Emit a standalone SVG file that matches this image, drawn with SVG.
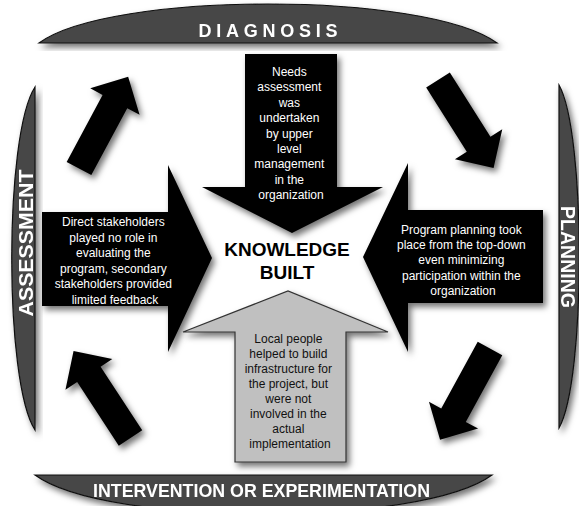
<svg xmlns="http://www.w3.org/2000/svg" width="579" height="506" viewBox="0 0 579 506">
  <defs>
    <filter id="shadow" x="-20%" y="-20%" width="140%" height="140%">
      <feDropShadow dx="3" dy="4" stdDeviation="3" flood-color="#000" flood-opacity="0.55"/>
    </filter>
    <!-- cycle arrow pointing along +x, tail at origin -->
    <path id="cycle-arrow" d="M0,-14 L76,-14 L76,-28 L104,0 L76,28 L76,14 L0,14 Z"/>
  </defs>
  <style>
    .bar { fill: #474747; stroke: #111; stroke-width: 1.2; }
    .bar-label { font-family: "Liberation Sans", Arial, sans-serif; font-weight: bold; fill: #fff; }
    .dark { fill: #000; }
    .light { fill: #c0c0c0; stroke: #333; stroke-width: 1.2; }
    .note { font-family: "Liberation Sans", Arial, sans-serif; font-size: 12px; text-anchor: middle; }
    .note-w { fill: #fff; }
    .note-k { fill: #111; }
    .core { font-family: "Liberation Sans", Arial, sans-serif; font-weight: bold; font-size: 19px; text-anchor: middle; fill: #000; }
  </style>

  <rect width="579" height="506" fill="#fff"/>

  <!-- phase bars -->
  <g id="diagnosis" filter="url(#shadow)">
    <path class="bar" d="M39,43 C110,-9 426,-9 497,43 Z"/>
    <text class="bar-label" x="268" y="37" font-size="18" text-anchor="middle" textLength="139" lengthAdjust="spacing">DIAGNOSIS</text>
  </g>
  <g id="intervention" filter="url(#shadow)">
    <path class="bar" d="M35,475 C106,527 421,527 492,475 Z"/>
    <text class="bar-label" x="261.5" y="497" font-size="18" text-anchor="middle" textLength="337" lengthAdjust="spacingAndGlyphs">INTERVENTION OR EXPERIMENTATION</text>
  </g>
  <g id="assessment" filter="url(#shadow)">
    <path class="bar" d="M35,87 C4,135 4,382 35,430 Z"/>
    <text class="bar-label" transform="translate(33,243) rotate(-90)" x="0" y="0" font-size="20" text-anchor="middle" textLength="147" lengthAdjust="spacingAndGlyphs">ASSESSMENT</text>
  </g>
  <g id="planning" filter="url(#shadow)">
    <path class="bar" d="M559,85 C586,133 586,380 559,428 Z"/>
    <text class="bar-label" transform="translate(561,257) rotate(90)" x="0" y="0" font-size="20" text-anchor="middle" textLength="102" lengthAdjust="spacingAndGlyphs">PLANNING</text>
  </g>

  <!-- cycle arrows between phases -->
  <g id="connectors" class="dark">
    <g filter="url(#shadow)"><use href="#cycle-arrow" transform="translate(79,168.5) rotate(-61.8)"/></g>
    <g filter="url(#shadow)"><use href="#cycle-arrow" transform="translate(438,80) rotate(57.7)"/></g>
    <g filter="url(#shadow)"><use href="#cycle-arrow" transform="translate(490,348.5) rotate(118.7)"/></g>
    <g filter="url(#shadow)"><use href="#cycle-arrow" transform="translate(130.5,438) rotate(-123.2)"/></g>
  </g>

  <!-- inward arrows -->
  <g id="needs-assessment">
    <path class="dark" filter="url(#shadow)" d="M245,54 L337,54 L337,187 L383,187 L292,233 L202,187 L245,187 Z"/>
    <text class="note note-w">
      <tspan x="291" y="76">Needs</tspan>
      <tspan x="291" y="91.4">assessment</tspan>
      <tspan x="291" y="106.8">was</tspan>
      <tspan x="291" y="122.2">undertaken</tspan>
      <tspan x="291" y="137.6">by upper</tspan>
      <tspan x="291" y="153">level</tspan>
      <tspan x="291" y="168.4">management</tspan>
      <tspan x="291" y="183.8">in the</tspan>
      <tspan x="291" y="199.2">organization</tspan>
    </text>
  </g>

  <g id="stakeholders">
    <path class="dark" filter="url(#shadow)" d="M42,212 L168,212 L168,165 L212,258 L168,352 L168,306 L42,306 Z"/>
    <text class="note note-w">
      <tspan x="115" y="226">Direct stakeholders</tspan>
      <tspan x="115" y="241.5">played no role in</tspan>
      <tspan x="115" y="257">evaluating the</tspan>
      <tspan x="115" y="272.5">program, secondary</tspan>
      <tspan x="115" y="288">stakeholders provided</tspan>
      <tspan x="115" y="303.5">limited feedback</tspan>
    </text>
  </g>

  <g id="program-planning">
    <path class="dark" filter="url(#shadow)" d="M543,210 L408,210 L408,163 L363,257 L408,352 L408,303 L543,303 Z"/>
    <text class="note note-w">
      <tspan x="463" y="233.5">Program planning took</tspan>
      <tspan x="463" y="248.9">place from the top-down</tspan>
      <tspan x="463" y="264.3">even minimizing</tspan>
      <tspan x="463" y="279.7">participation within the</tspan>
      <tspan x="463" y="295.1">organization</tspan>
    </text>
  </g>

  <g id="local-people">
    <path class="light" filter="url(#shadow)" d="M235,462 L346,462 L346,332 L388,332 L288,291 L183,332 L235,332 Z"/>
    <text class="note note-k">
      <tspan x="290" y="342.5">Local people</tspan>
      <tspan x="290" y="357.5">helped to build</tspan>
      <tspan x="290" y="372.5">infrastructure for</tspan>
      <tspan x="290" y="387.5">the project, but</tspan>
      <tspan x="290" y="402.5">were not</tspan>
      <tspan x="290" y="417.5">involved in the</tspan>
      <tspan x="290" y="432.5">actual</tspan>
      <tspan x="290" y="447.5">implementation</tspan>
    </text>
  </g>

  <!-- centre -->
  <g id="knowledge-built">
    <text class="core" x="287" y="256">KNOWLEDGE</text>
    <text class="core" x="287" y="279">BUILT</text>
  </g>
</svg>
